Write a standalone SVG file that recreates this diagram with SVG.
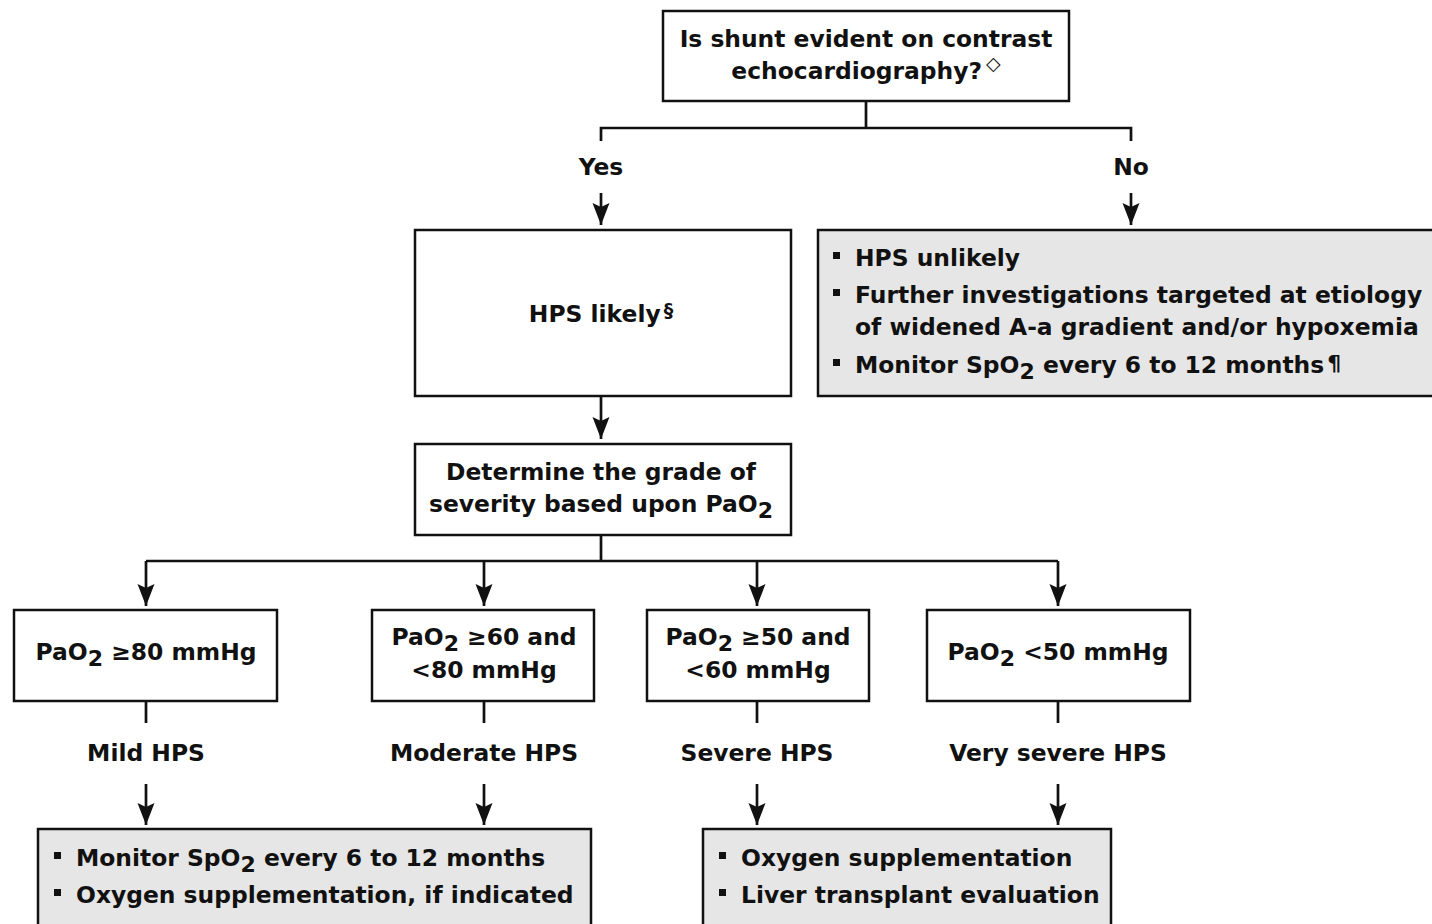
<svg xmlns="http://www.w3.org/2000/svg" width="1432" height="924" viewBox="0 0 1432 924">
<style>
text{font-family:"DejaVu Sans","Verdana",sans-serif;font-size:23.4px;font-weight:bold;fill:#111}
.c{text-anchor:middle}
.box{fill:#fff;stroke:#111;stroke-width:2.5}
.gbox{fill:#e6e6e6;stroke:#111;stroke-width:2.5}
.ln{fill:none;stroke:#111;stroke-width:2.7}
.sub{font-size:22px}
.sup{font-size:19px}
</style>
<defs>
<marker id="a" markerUnits="userSpaceOnUse" markerWidth="22" markerHeight="18" refX="22" refY="9" orient="auto" viewBox="0 0 22 18">
<path d="M0,0.5 L22,9 L0,17.5 L4,9 Z" fill="#111"/>
</marker>
</defs>
<rect width="1432" height="924" fill="#fff"/>
<g id="connectors">
<path class="ln" d="M866,101 V128 M601,141 V128 H1131 V141"/>
<path class="ln" d="M601,193 V225" marker-end="url(#a)"/>
<path class="ln" d="M1131,193 V225" marker-end="url(#a)"/>
<path class="ln" d="M601,396 V439" marker-end="url(#a)"/>
<path class="ln" d="M601,535 V561 M146,561 H1058"/>
<path class="ln" d="M146,561 V606" marker-end="url(#a)"/>
<path class="ln" d="M484,561 V606" marker-end="url(#a)"/>
<path class="ln" d="M757,561 V606" marker-end="url(#a)"/>
<path class="ln" d="M1058,561 V606" marker-end="url(#a)"/>
<path class="ln" d="M146,701 V723 M484,701 V723 M757,701 V723 M1058,701 V723"/>
<path class="ln" d="M146,784 V825" marker-end="url(#a)"/>
<path class="ln" d="M484,784 V825" marker-end="url(#a)"/>
<path class="ln" d="M757,784 V825" marker-end="url(#a)"/>
<path class="ln" d="M1058,784 V825" marker-end="url(#a)"/>
<text class="c" x="601" y="175">Yes</text>
<text class="c" x="1131" y="175">No</text>
<text class="c" x="146" y="761">Mild HPS</text>
<text class="c" x="484" y="761">Moderate HPS</text>
<text class="c" x="757" y="761">Severe HPS</text>
<text class="c" x="1058" y="761">Very severe HPS</text>
</g>
<g id="n-question">
<rect class="box" x="663" y="11" width="406" height="90"/>
<text class="c" x="866" y="47">Is shunt evident on contrast</text>
<text class="c" x="866" y="79">echocardiography?<tspan class="sup" dx="4" dy="-9">◇</tspan></text>
</g>
<g id="n-likely">
<rect class="box" x="415" y="230" width="376" height="166"/>
<text class="c" x="601" y="322">HPS likely<tspan class="sup" dx="3" dy="-5">§</tspan></text>
</g>
<g id="n-unlikely">
<rect class="gbox" x="818" y="230" width="620" height="166"/>
<rect x="833" y="252" width="7" height="7" fill="#111"/>
<text x="855" y="266">HPS unlikely</text>
<rect x="833" y="289" width="7" height="7" fill="#111"/>
<text x="855" y="303">Further investigations targeted at etiology</text>
<text x="855" y="335">of widened A-a gradient and/or hypoxemia</text>
<rect x="833" y="359" width="7" height="7" fill="#111"/>
<text x="855" y="373">Monitor SpO<tspan class="sub" dy="6">2</tspan><tspan dy="-6"> every 6 to 12 months</tspan><tspan dx="3" dy="-2" font-size="22">¶</tspan></text>
</g>
<g id="n-grade">
<rect class="box" x="415" y="444" width="376" height="91"/>
<text class="c" x="601" y="480">Determine the grade of</text>
<text class="c" x="601" y="512">severity based upon PaO<tspan class="sub" dy="6">2</tspan></text>
</g>
<g id="n-mild">
<rect class="box" x="14" y="610" width="263" height="91"/>
<text class="c" x="146" y="660">PaO<tspan class="sub" dy="6">2</tspan><tspan dy="-6"> ≥80 mmHg</tspan></text>
</g>
<g id="n-moderate">
<rect class="box" x="372" y="610" width="222" height="91"/>
<text class="c" x="484" y="645">PaO<tspan class="sub" dy="6">2</tspan><tspan dy="-6"> ≥60 and</tspan></text>
<text class="c" x="484" y="678">&lt;80 mmHg</text>
</g>
<g id="n-severe">
<rect class="box" x="647" y="610" width="222" height="91"/>
<text class="c" x="758" y="645">PaO<tspan class="sub" dy="6">2</tspan><tspan dy="-6"> ≥50 and</tspan></text>
<text class="c" x="758" y="678">&lt;60 mmHg</text>
</g>
<g id="n-vsevere">
<rect class="box" x="927" y="610" width="263" height="91"/>
<text class="c" x="1058" y="660">PaO<tspan class="sub" dy="6">2</tspan><tspan dy="-6"> &lt;50 mmHg</tspan></text>
</g>
<g id="n-monitor">
<rect class="gbox" x="38" y="829" width="553" height="110"/>
<rect x="54" y="852" width="7" height="7" fill="#111"/>
<text x="76" y="866">Monitor SpO<tspan class="sub" dy="6">2</tspan><tspan dy="-6"> every 6 to 12 months</tspan></text>
<rect x="54" y="889" width="7" height="7" fill="#111"/>
<text x="76" y="903">Oxygen supplementation, if indicated</text>
</g>
<g id="n-oxygen">
<rect class="gbox" x="703" y="829" width="408" height="110"/>
<rect x="719" y="852" width="7" height="7" fill="#111"/>
<text x="741" y="866">Oxygen supplementation</text>
<rect x="719" y="889" width="7" height="7" fill="#111"/>
<text x="741" y="903">Liver transplant evaluation</text>
</g>
</svg>
